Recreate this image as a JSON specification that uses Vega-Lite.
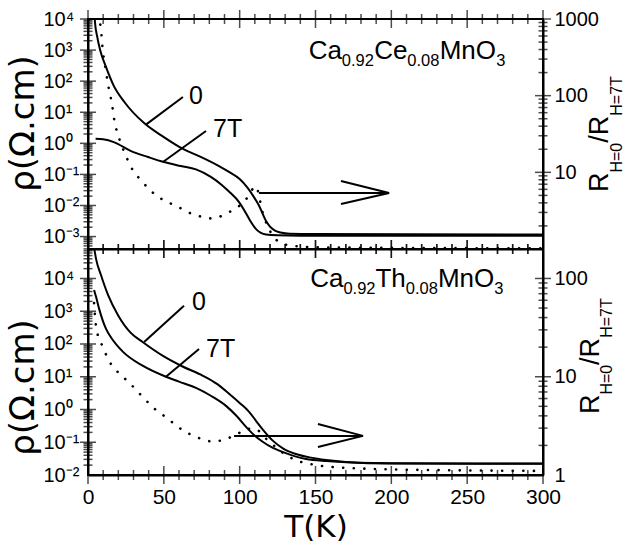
{
  "$schema": "https://vega.github.io/schema/vega-lite/v6.json",
  "background": "white",
  "padding": {"left": 5, "top": 8, "right": 0, "bottom": 0},
  "config": {
    "view": {"stroke": "black", "strokeWidth": 2},
    "axis": {"zindex": 1, "domainColor": "black", "domainWidth": 2, "labelColor": "black", "titleColor": "black", "labelFont": "Liberation Sans", "titleFont": "DejaVu Sans", "titleFontWeight": "normal", "grid": false, "ticks": false, "tickSize": 0, "labelOverlap": false, "labelFlush": false, "labelBound": false},
    "text": {"font": "Liberation Sans", "color": "black"},
    "tick": {"color": "black", "thickness": 1.5, "clip": true}
  },
  "datasets": {
    "xTicks": [
      {"T":0,"k":"maj"},{"T":10,"k":"min"},{"T":20,"k":"min"},{"T":30,"k":"min"},{"T":40,"k":"min"},{"T":50,"k":"maj"},{"T":60,"k":"min"},{"T":70,"k":"min"},{"T":80,"k":"min"},{"T":90,"k":"min"},{"T":100,"k":"maj"},{"T":110,"k":"min"},{"T":120,"k":"min"},{"T":130,"k":"min"},{"T":140,"k":"min"},{"T":150,"k":"maj"},{"T":160,"k":"min"},{"T":170,"k":"min"},{"T":180,"k":"min"},{"T":190,"k":"min"},{"T":200,"k":"maj"},{"T":210,"k":"min"},{"T":220,"k":"min"},{"T":230,"k":"min"},{"T":240,"k":"min"},{"T":250,"k":"maj"},{"T":260,"k":"min"},{"T":270,"k":"min"},{"T":280,"k":"min"},{"T":290,"k":"min"},{"T":300,"k":"maj"}
    ],
    "topLeftTicks": [
      {"v":0.0004,"k":"min"},{"v":0.0005,"k":"min"},{"v":0.0006,"k":"min"},{"v":0.0007,"k":"min"},{"v":0.0008,"k":"min"},{"v":0.0009,"k":"min"},{"v":0.001,"k":"maj"},
      {"v":0.002,"k":"min"},{"v":0.003,"k":"min"},{"v":0.004,"k":"min"},{"v":0.005,"k":"min"},{"v":0.006,"k":"min"},{"v":0.007,"k":"min"},{"v":0.008,"k":"min"},{"v":0.009,"k":"min"},{"v":0.01,"k":"maj"},
      {"v":0.02,"k":"min"},{"v":0.03,"k":"min"},{"v":0.04,"k":"min"},{"v":0.05,"k":"min"},{"v":0.06,"k":"min"},{"v":0.07,"k":"min"},{"v":0.08,"k":"min"},{"v":0.09,"k":"min"},{"v":0.1,"k":"maj"},
      {"v":0.2,"k":"min"},{"v":0.3,"k":"min"},{"v":0.4,"k":"min"},{"v":0.5,"k":"min"},{"v":0.6,"k":"min"},{"v":0.7,"k":"min"},{"v":0.8,"k":"min"},{"v":0.9,"k":"min"},{"v":1,"k":"maj"},
      {"v":2,"k":"min"},{"v":3,"k":"min"},{"v":4,"k":"min"},{"v":5,"k":"min"},{"v":6,"k":"min"},{"v":7,"k":"min"},{"v":8,"k":"min"},{"v":9,"k":"min"},{"v":10,"k":"maj"},
      {"v":20,"k":"min"},{"v":30,"k":"min"},{"v":40,"k":"min"},{"v":50,"k":"min"},{"v":60,"k":"min"},{"v":70,"k":"min"},{"v":80,"k":"min"},{"v":90,"k":"min"},{"v":100,"k":"maj"},
      {"v":200,"k":"min"},{"v":300,"k":"min"},{"v":400,"k":"min"},{"v":500,"k":"min"},{"v":600,"k":"min"},{"v":700,"k":"min"},{"v":800,"k":"min"},{"v":900,"k":"min"},{"v":1000,"k":"maj"},
      {"v":2000,"k":"min"},{"v":3000,"k":"min"},{"v":4000,"k":"min"},{"v":5000,"k":"min"},{"v":6000,"k":"min"},{"v":7000,"k":"min"},{"v":8000,"k":"min"},{"v":9000,"k":"min"},{"v":10000,"k":"maj"}
    ],
    "topRightTicks": [
      {"R":2,"k":"min"},{"R":3,"k":"min"},{"R":4,"k":"min"},{"R":5,"k":"min"},{"R":6,"k":"min"},{"R":7,"k":"min"},{"R":8,"k":"min"},{"R":9,"k":"min"},{"R":10,"k":"maj"},
      {"R":20,"k":"min"},{"R":30,"k":"min"},{"R":40,"k":"min"},{"R":50,"k":"min"},{"R":60,"k":"min"},{"R":70,"k":"min"},{"R":80,"k":"min"},{"R":90,"k":"min"},{"R":100,"k":"maj"},
      {"R":200,"k":"min"},{"R":300,"k":"min"},{"R":400,"k":"min"},{"R":500,"k":"min"},{"R":600,"k":"min"},{"R":700,"k":"min"},{"R":800,"k":"min"},{"R":900,"k":"min"},{"R":1000,"k":"maj"}
    ],
    "botLeftTicks": [
      {"v":0.02,"k":"min"},{"v":0.03,"k":"min"},{"v":0.04,"k":"min"},{"v":0.05,"k":"min"},{"v":0.06,"k":"min"},{"v":0.07,"k":"min"},{"v":0.08,"k":"min"},{"v":0.09,"k":"min"},{"v":0.1,"k":"maj"},
      {"v":0.2,"k":"min"},{"v":0.3,"k":"min"},{"v":0.4,"k":"min"},{"v":0.5,"k":"min"},{"v":0.6,"k":"min"},{"v":0.7,"k":"min"},{"v":0.8,"k":"min"},{"v":0.9,"k":"min"},{"v":1,"k":"maj"},
      {"v":2,"k":"min"},{"v":3,"k":"min"},{"v":4,"k":"min"},{"v":5,"k":"min"},{"v":6,"k":"min"},{"v":7,"k":"min"},{"v":8,"k":"min"},{"v":9,"k":"min"},{"v":10,"k":"maj"},
      {"v":20,"k":"min"},{"v":30,"k":"min"},{"v":40,"k":"min"},{"v":50,"k":"min"},{"v":60,"k":"min"},{"v":70,"k":"min"},{"v":80,"k":"min"},{"v":90,"k":"min"},{"v":100,"k":"maj"},
      {"v":200,"k":"min"},{"v":300,"k":"min"},{"v":400,"k":"min"},{"v":500,"k":"min"},{"v":600,"k":"min"},{"v":700,"k":"min"},{"v":800,"k":"min"},{"v":900,"k":"min"},{"v":1000,"k":"maj"},
      {"v":2000,"k":"min"},{"v":3000,"k":"min"},{"v":4000,"k":"min"},{"v":5000,"k":"min"},{"v":6000,"k":"min"},{"v":7000,"k":"min"},{"v":8000,"k":"min"},{"v":9000,"k":"min"},{"v":10000,"k":"maj"},
      {"v":20000,"k":"min"},{"v":30000,"k":"min"},{"v":40000,"k":"min"},{"v":50000,"k":"min"},{"v":60000,"k":"min"},{"v":70000,"k":"min"}
    ],
    "botRightTicks": [
      {"R":2,"k":"min"},{"R":3,"k":"min"},{"R":4,"k":"min"},{"R":5,"k":"min"},{"R":6,"k":"min"},{"R":7,"k":"min"},{"R":8,"k":"min"},{"R":9,"k":"min"},{"R":10,"k":"maj"},
      {"R":20,"k":"min"},{"R":30,"k":"min"},{"R":40,"k":"min"},{"R":50,"k":"min"},{"R":60,"k":"min"},{"R":70,"k":"min"},{"R":80,"k":"min"},{"R":90,"k":"min"},{"R":100,"k":"maj"}
    ],
    "topRho": [
      {"s":"0","T":4.0,"v":31623},{"s":"0","T":4.6,"v":7943},{"s":"0","T":6,"v":2818},{"s":"0","T":8,"v":1000},{"s":"0","T":11.9,"v":282},{"s":"0","T":17,"v":70.8},{"s":"0","T":24,"v":21.4},{"s":"0","T":37,"v":4.47},{"s":"0","T":50,"v":1.585},{"s":"0","T":62.6,"v":0.661},{"s":"0","T":75,"v":0.355},{"s":"0","T":86.4,"v":0.186},{"s":"0","T":93,"v":0.12},{"s":"0","T":100,"v":0.0708},{"s":"0","T":105,"v":0.038},{"s":"0","T":109,"v":0.02},{"s":"0","T":112.7,"v":0.01},{"s":"0","T":117.4,"v":0.00316},{"s":"0","T":120,"v":0.00209},{"s":"0","T":123,"v":0.00158},{"s":"0","T":127,"v":0.00135},{"s":"0","T":133,"v":0.00123},{"s":"0","T":150,"v":0.0012},{"s":"0","T":300,"v":0.00117},
      {"s":"7T","T":5,"v":1.413},{"s":"7T","T":10,"v":1.349},{"s":"7T","T":17,"v":1.096},{"s":"7T","T":28.4,"v":0.562},{"s":"7T","T":39.6,"v":0.363},{"s":"7T","T":50,"v":0.251},{"s":"7T","T":61.3,"v":0.186},{"s":"7T","T":71.2,"v":0.1445},{"s":"7T","T":81,"v":0.0832},{"s":"7T","T":88,"v":0.0468},{"s":"7T","T":94,"v":0.0251},{"s":"7T","T":99.6,"v":0.0129},{"s":"7T","T":103,"v":0.00708},{"s":"7T","T":106.2,"v":0.00372},{"s":"7T","T":110.8,"v":0.00174},{"s":"7T","T":114,"v":0.00132},{"s":"7T","T":117.4,"v":0.00117},{"s":"7T","T":125,"v":0.0011},{"s":"7T","T":140,"v":0.00107},{"s":"7T","T":300,"v":0.00107}
    ],
    "topRatio": [
      {"T":6.5,"R":1585},{"T":7.3,"R":1000},{"T":8.6,"R":741},{"T":9.2,"R":513},{"T":11.9,"R":204},{"T":13.2,"R":141},{"T":15.8,"R":77.6},{"T":17.8,"R":42.7},{"T":19.8,"R":30.9},{"T":25.1,"R":16.2},{"T":28.4,"R":11.7},{"T":33,"R":8.71},{"T":38.9,"R":6.46},{"T":45.5,"R":4.9},{"T":52.7,"R":4.07},{"T":59.3,"R":3.55},{"T":65.9,"R":3.02},{"T":73.2,"R":2.69},{"T":79.8,"R":2.51},{"T":86.4,"R":2.63},{"T":93,"R":3.02},{"T":99.6,"R":3.63},{"T":105.5,"R":4.79},{"T":110.5,"R":6.6},{"T":115.4,"R":2.88},{"T":126,"R":1.23},{"T":132.5,"R":1.12},{"T":150,"R":1.05},{"T":300,"R":1.02}
    ],
    "topLeaders": [
      {"s":"a","T":38.2,"v":4.0},{"s":"a","T":62.6,"v":30.9},{"s":"b","T":49.4,"v":0.251},{"s":"b","T":77.8,"v":2.49}
    ],
    "topLabels": [
      {"p":"0","T":66.6,"v":33.1},{"p":"7T","T":82.4,"v":2.88}
    ],
    "topFormula": [
      {"p":"Ca","T":145.5,"v":516,"role":"main"},{"p":"0.92","T":167.3,"v":308,"role":"sub"},{"p":"Ce","T":188.7,"v":516,"role":"main"},{"p":"0.08","T":210.5,"v":308,"role":"sub"},{"p":"MnO","T":231.9,"v":516,"role":"main"},{"p":"3","T":269.2,"v":308,"role":"sub"}
    ],
    "topArrow": [
      {"s":"shaft","i":0,"T":112.7,"R":5.37},{"s":"shaft","i":1,"T":198.5,"R":5.37},{"s":"head","i":0,"T":166.8,"R":7.71},{"s":"head","i":1,"T":198.5,"R":5.37},{"s":"head","i":2,"T":166.8,"R":3.86}
    ],
    "topRTitle": [
      {"p":"R","T":343,"R":5.54,"role":"main"},{"p":"H=0","T":352,"R":9.94,"role":"sub"},{"p":"/R","T":343,"R":24.3,"role":"main"},{"p":"H=7T","T":352,"R":54.7,"role":"sub"}
    ],
    "botRho": [
      {"s":"0","T":3.5,"v":125893},{"s":"0","T":5.3,"v":39811},{"s":"0","T":8.6,"v":12589},{"s":"0","T":13.2,"v":3162},{"s":"0","T":19.8,"v":759},{"s":"0","T":28.4,"v":214},{"s":"0","T":36,"v":115},{"s":"0","T":50,"v":41.7},{"s":"0","T":62,"v":20.9},{"s":"0","T":75.8,"v":10.7},{"s":"0","T":85,"v":6.03},{"s":"0","T":93,"v":3.02},{"s":"0","T":100,"v":1.585},{"s":"0","T":106.2,"v":0.851},{"s":"0","T":111,"v":0.437},{"s":"0","T":115.4,"v":0.24},{"s":"0","T":122,"v":0.11},{"s":"0","T":129,"v":0.0631},{"s":"0","T":137.1,"v":0.0437},{"s":"0","T":147,"v":0.0339},{"s":"0","T":157,"v":0.0288},{"s":"0","T":170,"v":0.0251},{"s":"0","T":200,"v":0.0224},{"s":"0","T":300,"v":0.0219},
      {"s":"7T","T":4,"v":4467},{"s":"7T","T":5.3,"v":2754},{"s":"7T","T":7.3,"v":1202},{"s":"7T","T":11.9,"v":288},{"s":"7T","T":15.2,"v":158},{"s":"7T","T":23.1,"v":57.5},{"s":"7T","T":36.3,"v":21.4},{"s":"7T","T":51.4,"v":10},{"s":"7T","T":60,"v":7.08},{"s":"7T","T":71.2,"v":4.57},{"s":"7T","T":81,"v":2.63},{"s":"7T","T":91,"v":1.29},{"s":"7T","T":98,"v":0.631},{"s":"7T","T":104.2,"v":0.295},{"s":"7T","T":110,"v":0.158},{"s":"7T","T":115.4,"v":0.102},{"s":"7T","T":121,"v":0.0708},{"s":"7T","T":128.6,"v":0.0501},{"s":"7T","T":143.7,"v":0.0309},{"s":"7T","T":157,"v":0.0269},{"s":"7T","T":200,"v":0.0229},{"s":"7T","T":300,"v":0.0224}
    ],
    "botRatio": [
      {"T":4,"R":56.2},{"T":5.3,"R":32.4},{"T":7.3,"R":24.5},{"T":9.9,"R":20},{"T":13.2,"R":15.1},{"T":17.8,"R":12},{"T":23.7,"R":9.77},{"T":30.3,"R":7.76},{"T":36.9,"R":6.03},{"T":44.2,"R":4.68},{"T":52.1,"R":3.8},{"T":59.3,"R":3.09},{"T":66.6,"R":2.63},{"T":74.5,"R":2.34},{"T":82.4,"R":2.19},{"T":89.7,"R":2.29},{"T":97.6,"R":2.57},{"T":105.5,"R":2.95},{"T":110,"R":2.95},{"T":117.4,"R":2.34},{"T":131.9,"R":1.55},{"T":139.1,"R":1.38},{"T":147,"R":1.29},{"T":155,"R":1.23},{"T":190,"R":1.15},{"T":236,"R":1.12},{"T":300,"R":1.1}
    ],
    "botLeaders": [
      {"s":"a","T":37,"v":115},{"s":"a","T":63.3,"v":1479},{"s":"b","T":51.4,"v":10},{"s":"b","T":73.2,"v":70.8}
    ],
    "botLabels": [
      {"p":"0","T":68.6,"v":1950},{"p":"7T","T":77.8,"v":70.8}
    ],
    "botFormula": [
      {"p":"Ca","T":146.5,"v":5620,"role":"main"},{"p":"0.92","T":168.4,"v":3430,"role":"sub"},{"p":"Th","T":189.5,"v":5620,"role":"main"},{"p":"0.08","T":209.5,"v":3430,"role":"sub"},{"p":"MnO","T":230.7,"v":5620,"role":"main"},{"p":"3","T":267.9,"v":3430,"role":"sub"}
    ],
    "botArrow": [
      {"s":"shaft","i":0,"T":96.3,"R":2.5},{"s":"shaft","i":1,"T":181.3,"R":2.5},{"s":"head","i":0,"T":151.6,"R":3.31},{"s":"head","i":1,"T":181.3,"R":2.5},{"s":"head","i":2,"T":151.6,"R":1.93}
    ],
    "botRTitle": [
      {"p":"R","T":337,"R":4.17,"role":"main"},{"p":"H=0","T":345.5,"R":6.59,"role":"sub"},{"p":"/R","T":337,"R":13.2,"role":"main"},{"p":"H=7T","T":345.5,"R":24.9,"role":"sub"}
    ]
  },
  "spacing": 0,
  "bounds": "flush",
  "vconcat": [
    {
      "width": 455,
      "height": 230,
      "resolve": {"scale": {"y": "independent"}, "axis": {"y": "independent"}},
      "layer": [
        {
          "layer": [
            {
              "data": {"name": "topRho"},
              "mark": {"type": "line", "color": "black", "strokeWidth": 2, "interpolate": "monotone", "clip": true},
              "encoding": {
                "x": {"field": "T", "type": "quantitative", "scale": {"domain": [0, 300], "nice": false, "zero": false},
                  "axis": {"orient": "bottom", "title": null, "labels": false, "values": [0,300]}},
                "y": {"field": "v", "type": "quantitative", "scale": {"type": "log", "domain": [0.000398, 10000], "nice": false},
                  "axis": {"orient": "left", "title": "ρ(Ω.cm)", "titleFontSize": 34, "titlePadding": 3, "titleY": 104,
                    "values": [0.001,0.01,0.1,1,10,100,1000,10000],
                    "labelExpr": "'10' + ['⁻⁴','⁻³','⁻²','⁻¹','⁰','¹','²','³','⁴'][round(log(datum.value)/LN10)+4]",
                    "labelAlign": "left", "labelFontSize": 20, "labelPadding": 45}},
                "detail": {"field": "s"}
              }
            },
            {
              "data": {"name": "topLeftTicks"},
              "transform": [{"filter": "datum.k === 'maj'"}],
              "mark": {"type": "tick", "orient": "horizontal", "size": 16},
              "encoding": {"x": {"datum": 0, "type": "quantitative"}, "y": {"field": "v", "type": "quantitative"}}
            },
            {
              "data": {"name": "topLeftTicks"},
              "transform": [{"filter": "datum.k === 'min'"}],
              "mark": {"type": "tick", "orient": "horizontal", "size": 9},
              "encoding": {"x": {"datum": 0, "type": "quantitative"}, "y": {"field": "v", "type": "quantitative"}}
            },
            {
              "data": {"name": "topLeaders"},
              "mark": {"type": "line", "color": "black", "strokeWidth": 2},
              "encoding": {"x": {"field": "T", "type": "quantitative"}, "y": {"field": "v", "type": "quantitative"}, "detail": {"field": "s"}}
            },
            {
              "data": {"name": "topLabels"},
              "mark": {"type": "text", "fontSize": 25, "align": "left", "baseline": "middle"},
              "encoding": {"x": {"field": "T", "type": "quantitative"}, "y": {"field": "v", "type": "quantitative"}, "text": {"field": "p"}}
            },
            {
              "data": {"name": "topFormula"},
              "transform": [{"filter": "datum.role === 'main'"}],
              "mark": {"type": "text", "fontSize": 26, "align": "left", "baseline": "alphabetic"},
              "encoding": {"x": {"field": "T", "type": "quantitative"}, "y": {"field": "v", "type": "quantitative"}, "text": {"field": "p"}}
            },
            {
              "data": {"name": "topFormula"},
              "transform": [{"filter": "datum.role === 'sub'"}],
              "mark": {"type": "text", "fontSize": 16.5, "align": "left", "baseline": "alphabetic"},
              "encoding": {"x": {"field": "T", "type": "quantitative"}, "y": {"field": "v", "type": "quantitative"}, "text": {"field": "p"}}
            }
          ]
        },
        {
          "layer": [
            {
              "data": {"name": "topRatio"},
              "mark": {"type": "line", "color": "black", "strokeWidth": 2.6, "strokeDash": [0.1, 10.5], "strokeCap": "round", "interpolate": "monotone", "clip": true},
              "encoding": {
                "x": {"field": "T", "type": "quantitative"},
                "y": {"field": "R", "type": "quantitative", "scale": {"type": "log", "domain": [1, 1000], "nice": false},
                  "axis": {"orient": "right", "title": null, "values": [10,100,1000], "format": "d",
                    "labelFontSize": 20, "labelPadding": 11}}
              }
            },
            {
              "data": {"name": "topRightTicks"},
              "transform": [{"filter": "datum.k === 'maj'"}],
              "mark": {"type": "tick", "orient": "horizontal", "size": 16},
              "encoding": {"x": {"datum": 300, "type": "quantitative"}, "y": {"field": "R", "type": "quantitative"}}
            },
            {
              "data": {"name": "topRightTicks"},
              "transform": [{"filter": "datum.k === 'min'"}],
              "mark": {"type": "tick", "orient": "horizontal", "size": 9},
              "encoding": {"x": {"datum": 300, "type": "quantitative"}, "y": {"field": "R", "type": "quantitative"}}
            },
            {
              "data": {"name": "topArrow"},
              "mark": {"type": "line", "color": "black", "strokeWidth": 2},
              "encoding": {"x": {"field": "T", "type": "quantitative"}, "y": {"field": "R", "type": "quantitative"}, "detail": {"field": "s"}, "order": {"field": "i"}}
            },
            {
              "data": {"name": "topRTitle"},
              "transform": [{"filter": "datum.role === 'main'"}],
              "mark": {"type": "text", "fontSize": 27, "angle": 270, "align": "left", "baseline": "alphabetic"},
              "encoding": {"x": {"field": "T", "type": "quantitative"}, "y": {"field": "R", "type": "quantitative"}, "text": {"field": "p"}}
            },
            {
              "data": {"name": "topRTitle"},
              "transform": [{"filter": "datum.role === 'sub'"}],
              "mark": {"type": "text", "fontSize": 16, "angle": 270, "align": "left", "baseline": "alphabetic"},
              "encoding": {"x": {"field": "T", "type": "quantitative"}, "y": {"field": "R", "type": "quantitative"}, "text": {"field": "p"}}
            }
          ]
        },
        {
          "data": {"name": "xTicks"},
          "layer": [
            {
              "transform": [{"filter": "datum.k === 'maj'"}],
              "mark": {"type": "tick", "orient": "vertical", "size": 18},
              "encoding": {"x": {"field": "T", "type": "quantitative"}, "y": {"datum": 0, "type": "quantitative", "scale": {"domain": [0, 1], "nice": false, "zero": false}, "axis": null}}
            },
            {
              "transform": [{"filter": "datum.k === 'min'"}],
              "mark": {"type": "tick", "orient": "vertical", "size": 10},
              "encoding": {"x": {"field": "T", "type": "quantitative"}, "y": {"datum": 0, "type": "quantitative"}}
            },
            {
              "transform": [{"filter": "datum.k === 'maj'"}],
              "mark": {"type": "tick", "orient": "vertical", "size": 18},
              "encoding": {"x": {"field": "T", "type": "quantitative"}, "y": {"datum": 1, "type": "quantitative"}}
            },
            {
              "transform": [{"filter": "datum.k === 'min'"}],
              "mark": {"type": "tick", "orient": "vertical", "size": 10},
              "encoding": {"x": {"field": "T", "type": "quantitative"}, "y": {"datum": 1, "type": "quantitative"}}
            }
          ]
        }
      ]
    },
    {
      "width": 455,
      "height": 226,
      "resolve": {"scale": {"y": "independent"}, "axis": {"y": "independent"}},
      "layer": [
        {
          "layer": [
            {
              "data": {"name": "botRho"},
              "mark": {"type": "line", "color": "black", "strokeWidth": 2, "interpolate": "monotone", "clip": true},
              "encoding": {
                "x": {"field": "T", "type": "quantitative", "scale": {"domain": [0, 300], "nice": false, "zero": false},
                  "axis": {"orient": "bottom", "title": "T(K)", "titleFontSize": 31, "titlePadding": 5, "values": [0,50,100,150,200,250,300],
                    "labelFontSize": 21, "labelPadding": 11}},
                "y": {"field": "v", "type": "quantitative", "scale": {"type": "log", "domain": [0.01, 79433], "nice": false},
                  "axis": {"orient": "left", "title": "ρ(Ω.cm)", "titleFontSize": 34, "titlePadding": 3, "titleY": 138,
                    "values": [0.01,0.1,1,10,100,1000,10000],
                    "labelExpr": "'10' + ['⁻⁴','⁻³','⁻²','⁻¹','⁰','¹','²','³','⁴'][round(log(datum.value)/LN10)+4]",
                    "labelAlign": "left", "labelFontSize": 20, "labelPadding": 45}},
                "detail": {"field": "s"}
              }
            },
            {
              "data": {"name": "botLeftTicks"},
              "transform": [{"filter": "datum.k === 'maj'"}],
              "mark": {"type": "tick", "orient": "horizontal", "size": 16},
              "encoding": {"x": {"datum": 0, "type": "quantitative"}, "y": {"field": "v", "type": "quantitative"}}
            },
            {
              "data": {"name": "botLeftTicks"},
              "transform": [{"filter": "datum.k === 'min'"}],
              "mark": {"type": "tick", "orient": "horizontal", "size": 9},
              "encoding": {"x": {"datum": 0, "type": "quantitative"}, "y": {"field": "v", "type": "quantitative"}}
            },
            {
              "data": {"name": "botLeaders"},
              "mark": {"type": "line", "color": "black", "strokeWidth": 2},
              "encoding": {"x": {"field": "T", "type": "quantitative"}, "y": {"field": "v", "type": "quantitative"}, "detail": {"field": "s"}}
            },
            {
              "data": {"name": "botLabels"},
              "mark": {"type": "text", "fontSize": 25, "align": "left", "baseline": "middle"},
              "encoding": {"x": {"field": "T", "type": "quantitative"}, "y": {"field": "v", "type": "quantitative"}, "text": {"field": "p"}}
            },
            {
              "data": {"name": "botFormula"},
              "transform": [{"filter": "datum.role === 'main'"}],
              "mark": {"type": "text", "fontSize": 26, "align": "left", "baseline": "alphabetic"},
              "encoding": {"x": {"field": "T", "type": "quantitative"}, "y": {"field": "v", "type": "quantitative"}, "text": {"field": "p"}}
            },
            {
              "data": {"name": "botFormula"},
              "transform": [{"filter": "datum.role === 'sub'"}],
              "mark": {"type": "text", "fontSize": 16.5, "align": "left", "baseline": "alphabetic"},
              "encoding": {"x": {"field": "T", "type": "quantitative"}, "y": {"field": "v", "type": "quantitative"}, "text": {"field": "p"}}
            }
          ]
        },
        {
          "layer": [
            {
              "data": {"name": "botRatio"},
              "mark": {"type": "line", "color": "black", "strokeWidth": 2.6, "strokeDash": [0.1, 10.5], "strokeCap": "round", "interpolate": "monotone", "clip": true},
              "encoding": {
                "x": {"field": "T", "type": "quantitative"},
                "y": {"field": "R", "type": "quantitative", "scale": {"type": "log", "domain": [1, 199.5], "nice": false},
                  "axis": {"orient": "right", "title": null, "values": [1,10,100], "format": "d",
                    "labelFontSize": 20, "labelPadding": 11}}
              }
            },
            {
              "data": {"name": "botRightTicks"},
              "transform": [{"filter": "datum.k === 'maj'"}],
              "mark": {"type": "tick", "orient": "horizontal", "size": 16},
              "encoding": {"x": {"datum": 300, "type": "quantitative"}, "y": {"field": "R", "type": "quantitative"}}
            },
            {
              "data": {"name": "botRightTicks"},
              "transform": [{"filter": "datum.k === 'min'"}],
              "mark": {"type": "tick", "orient": "horizontal", "size": 9},
              "encoding": {"x": {"datum": 300, "type": "quantitative"}, "y": {"field": "R", "type": "quantitative"}}
            },
            {
              "data": {"name": "botArrow"},
              "mark": {"type": "line", "color": "black", "strokeWidth": 2},
              "encoding": {"x": {"field": "T", "type": "quantitative"}, "y": {"field": "R", "type": "quantitative"}, "detail": {"field": "s"}, "order": {"field": "i"}}
            },
            {
              "data": {"name": "botRTitle"},
              "transform": [{"filter": "datum.role === 'main'"}],
              "mark": {"type": "text", "fontSize": 27, "angle": 270, "align": "left", "baseline": "alphabetic"},
              "encoding": {"x": {"field": "T", "type": "quantitative"}, "y": {"field": "R", "type": "quantitative"}, "text": {"field": "p"}}
            },
            {
              "data": {"name": "botRTitle"},
              "transform": [{"filter": "datum.role === 'sub'"}],
              "mark": {"type": "text", "fontSize": 16, "angle": 270, "align": "left", "baseline": "alphabetic"},
              "encoding": {"x": {"field": "T", "type": "quantitative"}, "y": {"field": "R", "type": "quantitative"}, "text": {"field": "p"}}
            }
          ]
        },
        {
          "data": {"name": "xTicks"},
          "layer": [
            {
              "transform": [{"filter": "datum.k === 'maj'"}],
              "mark": {"type": "tick", "orient": "vertical", "size": 18},
              "encoding": {"x": {"field": "T", "type": "quantitative"}, "y": {"datum": 0, "type": "quantitative", "scale": {"domain": [0, 1], "nice": false, "zero": false}, "axis": null}}
            },
            {
              "transform": [{"filter": "datum.k === 'min'"}],
              "mark": {"type": "tick", "orient": "vertical", "size": 10},
              "encoding": {"x": {"field": "T", "type": "quantitative"}, "y": {"datum": 0, "type": "quantitative"}}
            },
            {
              "transform": [{"filter": "datum.k === 'maj'"}],
              "mark": {"type": "tick", "orient": "vertical", "size": 18},
              "encoding": {"x": {"field": "T", "type": "quantitative"}, "y": {"datum": 1, "type": "quantitative"}}
            },
            {
              "transform": [{"filter": "datum.k === 'min'"}],
              "mark": {"type": "tick", "orient": "vertical", "size": 10},
              "encoding": {"x": {"field": "T", "type": "quantitative"}, "y": {"datum": 1, "type": "quantitative"}}
            }
          ]
        }
      ]
    }
  ]
}
